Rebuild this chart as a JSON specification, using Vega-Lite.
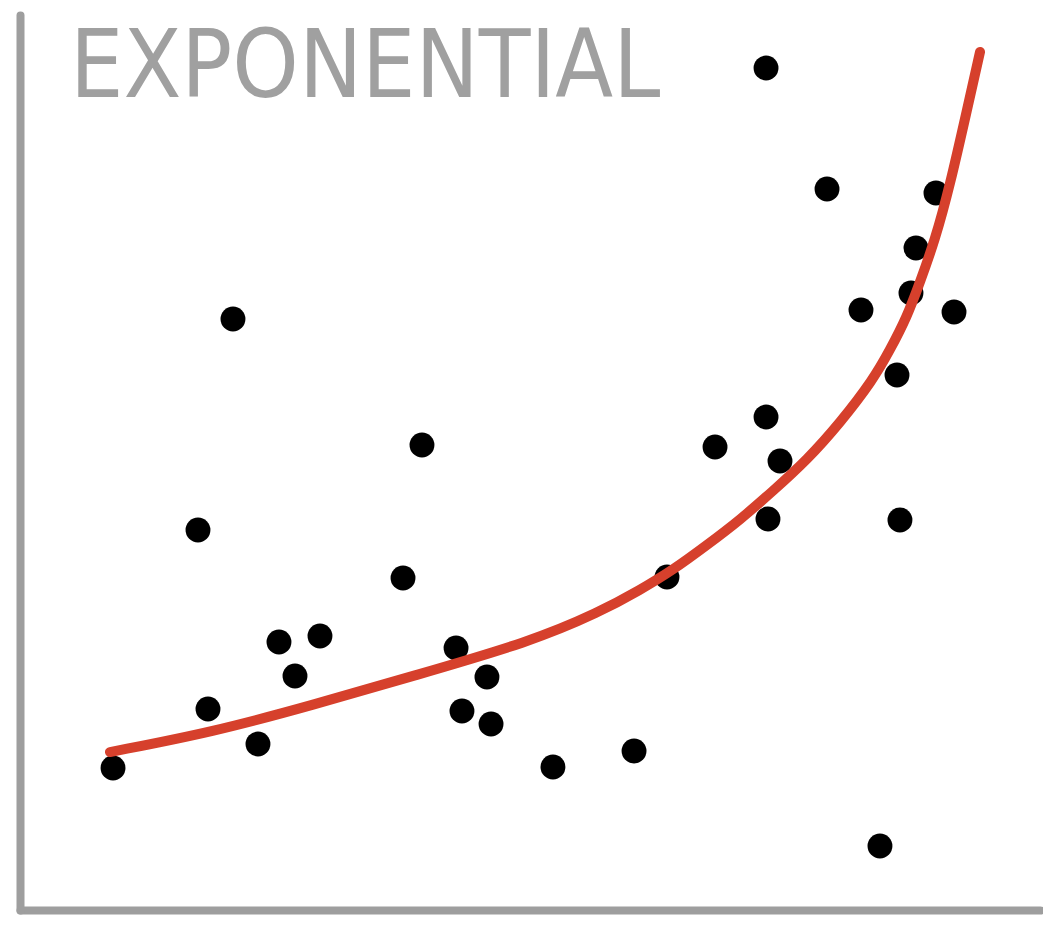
{
  "$schema": "https://vega.github.io/schema/vega-lite/v6.json",
  "autosize": "none",
  "padding": {"left": 20, "top": 15, "right": 3, "bottom": 17},
  "width": 1020,
  "height": 895,
  "background": "white",
  "config": {
    "view": {"stroke": null},
    "axis": {"domainColor": "#9e9e9e", "domainWidth": 8, "domainCap": "round", "ticks": false, "labels": false, "grid": false, "title": null}
  },
  "datasets": {
    "points": [
      {"x": 9.12, "y": 15.87}, {"x": 18.43, "y": 22.46}, {"x": 23.33, "y": 18.55}, {"x": 17.45, "y": 42.46},
      {"x": 20.88, "y": 66.03}, {"x": 25.39, "y": 29.94}, {"x": 26.96, "y": 26.15}, {"x": 29.41, "y": 30.61},
      {"x": 37.55, "y": 37.09}, {"x": 39.41, "y": 51.96}, {"x": 42.75, "y": 29.27}, {"x": 45.78, "y": 26.03},
      {"x": 43.33, "y": 22.23}, {"x": 46.18, "y": 20.78}, {"x": 52.25, "y": 15.98}, {"x": 60.2, "y": 17.77},
      {"x": 63.43, "y": 37.21}, {"x": 68.14, "y": 51.73}, {"x": 73.14, "y": 55.08}, {"x": 74.51, "y": 50.17},
      {"x": 73.33, "y": 43.69}, {"x": 73.14, "y": 94.08}, {"x": 79.12, "y": 80.56}, {"x": 82.45, "y": 67.04},
      {"x": 85.98, "y": 59.78}, {"x": 86.27, "y": 43.58}, {"x": 84.31, "y": 7.15}, {"x": 87.35, "y": 68.94},
      {"x": 87.84, "y": 73.97}, {"x": 89.8, "y": 80.11}, {"x": 91.57, "y": 66.82}
    ],
    "curve": [
      {"x": 8.82, "y": 17.65}, {"x": 18.92, "y": 19.89}, {"x": 28.73, "y": 22.91}, {"x": 38.53, "y": 26.15},
      {"x": 50.0, "y": 29.94}, {"x": 56.86, "y": 33.3}, {"x": 60.78, "y": 35.75}, {"x": 64.02, "y": 37.99},
      {"x": 67.35, "y": 40.78}, {"x": 70.59, "y": 43.58}, {"x": 73.82, "y": 46.82}, {"x": 77.16, "y": 50.28},
      {"x": 80.39, "y": 54.41}, {"x": 83.63, "y": 59.22}, {"x": 85.29, "y": 62.57}, {"x": 86.96, "y": 66.26},
      {"x": 88.24, "y": 70.17}, {"x": 89.71, "y": 74.86}, {"x": 91.18, "y": 81.01}, {"x": 92.84, "y": 89.39},
      {"x": 94.12, "y": 95.87}
    ],
    "label": [{"x": 4.9, "y": 90.84, "text": "EXPONENTIAL"}]
  },
  "layer": [
    {
      "data": {"name": "points"},
      "mark": {"type": "point", "filled": true, "shape": "circle", "color": "black", "opacity": 1, "size": 620},
      "encoding": {
        "x": {"field": "x", "type": "quantitative", "scale": {"domain": [0, 100], "nice": false, "zero": false}, "axis": {"orient": "bottom"}},
        "y": {"field": "y", "type": "quantitative", "scale": {"domain": [0, 100], "nice": false, "zero": false}, "axis": {"orient": "left"}}
      }
    },
    {
      "data": {"name": "curve"},
      "mark": {"type": "line", "color": "#d6402c", "strokeWidth": 10, "strokeCap": "round", "interpolate": "basis"},
      "encoding": {
        "x": {"field": "x", "type": "quantitative"},
        "y": {"field": "y", "type": "quantitative"}
      }
    },
    {
      "data": {"name": "label"},
      "mark": {"type": "text", "align": "left", "baseline": "alphabetic", "font": "Liberation Sans Narrow, DejaVu Sans Condensed, sans-serif", "fontSize": 94, "color": "#a0a0a0"},
      "encoding": {
        "x": {"field": "x", "type": "quantitative"},
        "y": {"field": "y", "type": "quantitative"},
        "text": {"field": "text"}
      }
    }
  ]
}
